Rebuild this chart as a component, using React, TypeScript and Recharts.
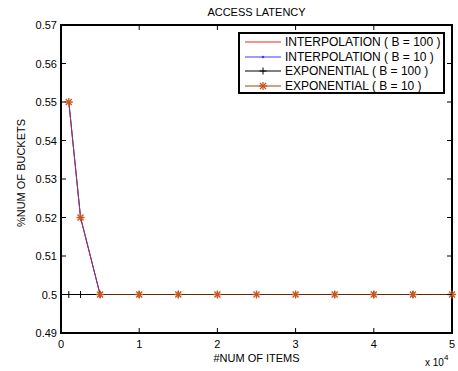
import { Line, LineChart, XAxis, YAxis, ReferenceArea } from 'recharts';

const items = [1000, 2500, 5000, 10000, 15000, 20000, 25000, 30000, 35000, 40000, 45000, 50000];
const interp100 = [0.55, 0.52, 0.5, 0.5, 0.5, 0.5, 0.5, 0.5, 0.5, 0.5, 0.5, 0.5];
const interp10 = [0.55, 0.52, 0.5, 0.5, 0.5, 0.5, 0.5, 0.5, 0.5, 0.5, 0.5, 0.5];
const expo100 = [0.5, 0.5, 0.5, 0.5, 0.5, 0.5, 0.5, 0.5, 0.5, 0.5, 0.5, 0.5];
const expo10 = [0.55, 0.52, 0.5, 0.5, 0.5, 0.5, 0.5, 0.5, 0.5, 0.5, 0.5, 0.5];

const xTicks = [0, 10000, 20000, 30000, 40000, 50000];
const yTicks = [0.49, 0.5, 0.51, 0.52, 0.53, 0.54, 0.55, 0.56, 0.57];

const seriesNames = [
  'INTERPOLATION ( B = 100 )',
  'INTERPOLATION ( B = 10 )',
  'EXPONENTIAL ( B = 100 )',
  'EXPONENTIAL ( B = 10 )',
];

const data = items.map((n, i) => ({
  n,
  i100: interp100[i],
  i10: interp10[i],
  e100: expo100[i],
  e10: expo10[i],
}));

const FONT = 'Liberation Sans, Arial, sans-serif';
const RED = '#ff2020';
const BLUE = '#3a3aff';
const BROWN = '#a3400c';
const STAR = '#c8561c';

// plot box size, used for the mirrored inward ticks and the bottom edge
const PLOT_W = 391;
const PLOT_H = 308;

const Plus = ({ cx, cy, color }: any) => (
  <g>
    <line x1={cx - 3.5} x2={cx + 3.5} y1={cy} y2={cy} stroke={color} strokeWidth={1} />
    <line x1={cx} x2={cx} y1={cy - 3.5} y2={cy + 3.5} stroke={color} strokeWidth={1} />
  </g>
);

const Star = ({ cx, cy, color }: any) => (
  <g stroke={color} strokeWidth={1.3}>
    <line x1={cx - 4} x2={cx + 4} y1={cy} y2={cy} />
    <line x1={cx} x2={cx} y1={cy - 4} y2={cy + 4} />
    <line x1={cx - 3} x2={cx + 3} y1={cy - 3} y2={cy + 3} />
    <line x1={cx - 3} x2={cx + 3} y1={cy + 3} y2={cy - 3} />
  </g>
);

// each bottom tick also draws its stretch of the bottom frame edge
const BottomTick = ({ x, y, payload, index }: any) => (
  <g>
    {index < xTicks.length - 1 && (
      <rect x={x - 1} y={y - 1} width={PLOT_W / (xTicks.length - 1) + 2} height={2} fill='#000' />
    )}
    <line x1={x} x2={x} y1={y} y2={y - 5} stroke='#000' />
    <line x1={x} x2={x} y1={y - PLOT_H} y2={y - PLOT_H + 5} stroke='#000' />
    <text x={x} y={y + 15} textAnchor='middle' fontSize={11} fontFamily={FONT} fill='#000'>
      {payload.value / 10000}
    </text>
  </g>
);
const LeftTick = ({ x, y, payload }: any) => (
  <g>
    <line x1={x} x2={x + 5} y1={y} y2={y} stroke='#000' />
    <line x1={x + PLOT_W} x2={x + PLOT_W - 5} y1={y} y2={y} stroke='#000' />
    <text x={x - 4} y={y + 4} textAnchor='end' fontSize={11} fontFamily={FONT} fill='#000'>
      {Math.round(payload.value * 100) / 100}
    </text>
  </g>
);

function LegendBox() {
  const rows = [
    { color: RED, mark: null },
    { color: BLUE, mark: 'dot' },
    { color: '#000', mark: 'plus' },
    { color: BROWN, mark: 'star' },
  ];
  return (
    <div
      style={{
        position: 'absolute',
        left: 238,
        top: 32,
        border: '2px solid #000',
        background: '#fff',
        width: 207,
        height: 62,
        boxSizing: 'border-box',
        padding: '1px 0 0 5px',
        fontFamily: FONT,
        fontSize: 12,
      }}
    >
      {rows.map((r, i) => (
        <div key={i} style={{ display: 'flex', alignItems: 'center', height: 14.6 }}>
          <svg width={36} height={12} style={{ marginRight: 4 }}>
            <line x1={0} x2={36} y1={6} y2={6} stroke={r.color} strokeWidth={1} />
            {r.mark === 'dot' && <circle cx={18} cy={6} r={1.3} fill={r.color} />}
            {r.mark === 'plus' && <Plus cx={18} cy={6} color='#000' />}
            {r.mark === 'star' && <Star cx={18} cy={6} color={STAR} />}
          </svg>
          <span style={{ whiteSpace: 'nowrap' }}>{seriesNames[i]}</span>
        </div>
      ))}
    </div>
  );
}

export default function App() {
  return (
    <div
      style={{
        position: 'absolute',
        left: 0,
        top: 0,
        width: 458,
        height: 371,
        background: '#fff',
        overflow: 'hidden',
      }}
    >
      <style>{'body{margin:0;overflow:hidden}'}</style>
      <LineChart
        width={458}
        height={371}
        data={data}
        margin={{ top: 25, right: 6, left: 0, bottom: 0 }}
      >
        <XAxis
          dataKey='n'
          type='number'
          domain={[0, 50000]}
          ticks={xTicks}
          height={38}
          tickSize={0}
          tickMargin={0}
          tick={<BottomTick />}
          axisLine={{ stroke: '#000', strokeWidth: 2 }}
          tickLine={false}
          interval={0}
        />
        <YAxis
          type='number'
          domain={[0.49, 0.57]}
          ticks={yTicks}
          width={61}
          tickSize={0}
          tickMargin={0}
          tick={<LeftTick />}
          axisLine={false}
          tickLine={false}
          interval={0}
          allowDataOverflow
        />
        <ReferenceArea
          x1={0}
          x2={50000}
          y1={0.49}
          y2={0.57}
          fill='none'
          fillOpacity={0}
          stroke='#000'
          strokeWidth={2}
          ifOverflow='visible'
        />
        <Line dataKey='i100' stroke={RED} strokeWidth={1} dot={false} isAnimationActive={false} />
        <Line
          dataKey='i10'
          stroke={BLUE}
          strokeWidth={1}
          dot={(p: any) => <circle key={p.index} cx={p.cx} cy={p.cy} r={1.2} fill={BLUE} />}
          isAnimationActive={false}
        />
        <Line
          dataKey='e100'
          stroke='#000'
          strokeWidth={1}
          dot={(p: any) => <Plus key={p.index} cx={p.cx} cy={p.cy} color='#000' />}
          isAnimationActive={false}
        />
        <Line
          dataKey='e10'
          stroke={BROWN}
          strokeOpacity={0.6}
          strokeWidth={1}
          dot={(p: any) => <Star key={p.index} cx={p.cx} cy={p.cy} color={STAR} />}
          isAnimationActive={false}
        />
        <text x={256.5} y={16} textAnchor='middle' fontSize={11} fontFamily={FONT}>
          ACCESS LATENCY
        </text>
        <text x={256.5} y={362} textAnchor='middle' fontSize={11} fontFamily={FONT}>
          #NUM OF ITEMS
        </text>
        <text
          x={25}
          y={173}
          textAnchor='middle'
          fontSize={11}
          fontFamily={FONT}
          transform='rotate(-90 25 173)'
        >
          %NUM OF BUCKETS
        </text>
        <text x={425} y={366} fontSize={10} fontFamily={FONT}>
          x 10
          <tspan dy={-6} fontSize={8}>
            4
          </tspan>
        </text>
      </LineChart>
      <LegendBox />
    </div>
  );
}
